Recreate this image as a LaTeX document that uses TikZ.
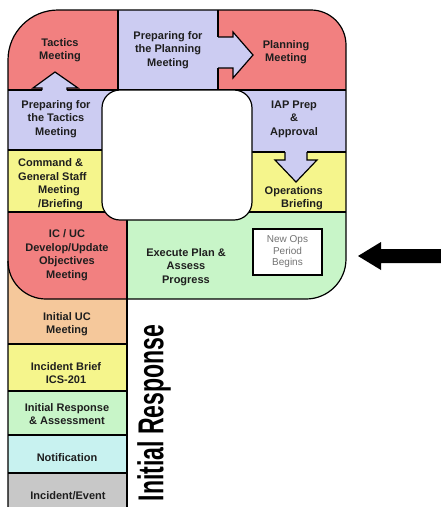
\documentclass[tikz,border=0pt]{standalone}
\usepackage{fontspec}
\setmainfont{Liberation Sans}
\definecolor{cellred}{RGB}{242,128,128}
\definecolor{celllav}{RGB}{204,204,242}
\definecolor{cellyel}{RGB}{245,245,140}
\definecolor{cellgrn}{RGB}{200,245,200}
\definecolor{cellorg}{RGB}{245,200,155}
\definecolor{cellcyn}{RGB}{200,242,240}
\definecolor{cellgry}{RGB}{200,200,200}
\definecolor{inktext}{RGB}{30,30,30}
\tikzset{
  rule/.style={draw=black, line width=1.2pt},
  lbl/.style={font=\bfseries\fontsize{11}{13.5}\selectfont, align=center, text=inktext, inner sep=0pt},
  note/.style={font=\fontsize{10}{11.5}\selectfont, align=center, text=black!55,
    draw=black, line width=1.2pt, fill=white, minimum width=69pt, minimum height=46pt, inner sep=0pt},
}
\begin{document}
\begin{tikzpicture}[x=1pt, y=-1pt]
\useasboundingbox (0,0) rectangle (441,507);

% coloured cells, clipped to the outline of the cycle and the start-up column
\begin{scope}
  \clip (8,520) -- (8,60) .. controls (8,32.4) and (30.4,10) .. (58,10)
     -- (311,10) .. controls (330.3,10) and (346,25.7) .. (346,45)
     -- (346,259) .. controls (346,281.1) and (328.1,299) .. (306,299)
     -- (127,299) -- (127,520) -- cycle;
  \fill[cellred] (8,10) rectangle (118,90);
  \fill[celllav] (118,10) rectangle (218,90);
  \fill[cellred] (218,10) rectangle (346,90);
  \fill[celllav] (8,90) rectangle (150,150);
  \fill[cellyel] (8,150) rectangle (150,212);
  \fill[celllav] (200,90) rectangle (346,152);
  \fill[cellyel] (200,152) rectangle (346,212);
  \fill[cellgrn] (110,212) rectangle (346,299);
  \fill[cellorg] (8,240) rectangle (127,344);
  \fill[cellyel] (8,344) rectangle (127,391);
  \fill[cellgrn] (8,391) rectangle (127,435);
  \fill[cellcyn] (8,435) rectangle (127,473);
  \fill[cellgry] (8,473) rectangle (127,520);
  \begin{scope}
    \clip (8,212) rectangle (127,299);
    \fill[cellred] (8,212) -- (8,261) .. controls (8,282) and (25,299) .. (46,299)
      -- (127,299) -- (127,212) -- cycle;
  \end{scope}
\end{scope}

% block arrows between the stages
\fill[celllav] (215,37) -- (233,37) -- (233,32) -- (253,55) -- (233,78) -- (233,68) -- (215,68) -- cycle;
\draw[rule, line join=miter] (218,37) -- (233,37) -- (233,32) -- (253,55) -- (233,78) -- (233,68) -- (218,68);
\fill[celllav] (42,93) -- (42,88) -- (33,88) -- (55,72) -- (78,88) -- (67,88) -- (67,93) -- cycle;
\draw[rule, line join=miter] (42,90) -- (42,88) -- (33,88) -- (55,72) -- (78,88) -- (67,88) -- (67,90);
\fill[celllav] (285,149) -- (285,160) -- (275,160) -- (296,182) -- (317,160) -- (307,160) -- (307,149) -- cycle;
\draw[rule, line join=miter] (285,152) -- (285,160) -- (275,160) -- (296,182) -- (317,160) -- (307,160) -- (307,152);

% dividing lines
\draw[rule] (118,10) -- (118,90);
\draw[rule] (218,10) -- (218,37) (218,68) -- (218,90);
\draw[rule] (8,90) -- (42,90) (67,90) -- (346,90);
\draw[rule] (8,150) -- (110,150);
\draw[rule] (8,212) -- (110,212);
\draw[rule] (245,152) -- (285,152) (307,152) -- (346,152);
\draw[rule] (245,212) -- (346,212);
\draw[rule] (127,212) -- (127,520);
\draw[rule] (8,261) .. controls (8,282) and (25,299) .. (46,299) -- (127,299);
\draw[rule] (8,344) -- (127,344) (8,391) -- (127,391) (8,435) -- (127,435) (8,473) -- (127,473);

% hollow centre of the cycle
\draw[rule, fill=white, rounded corners=18pt] (102,90) rectangle (252,220);

% outline
\draw[rule] (8,520) -- (8,60) .. controls (8,32.4) and (30.4,10) .. (58,10)
   -- (311,10) .. controls (330.3,10) and (346,25.7) .. (346,45)
   -- (346,259) .. controls (346,281.1) and (328.1,299) .. (306,299)
   -- (127,299);

% stage labels
\node[lbl] (tactics)  at (60,50)    {Tactics\\Meeting};
\node[lbl] (prepplan) at (168,50)   {Preparing for\\the Planning\\Meeting};
\node[lbl] (planning) at (286,52)   {Planning\\Meeting};
\node[lbl] (preptac)  at (56,119)   {Preparing for\\the Tactics\\Meeting};
\node[lbl, align=left, anchor=west] (cgs) at (18,184)
  {Command \&\\General Staff\\\hspace*{20pt}Meeting\\\hspace*{20pt}/Briefing};
\node[lbl] (iap)      at (294,119)  {IAP Prep\\\&\\Approval};
\node[lbl, align=right, anchor=east] (opsbrief) at (323,198) {Operations\\Briefing};
\node[lbl] (icuc)     at (67,255)   {IC / UC\\Develop/Update\\Objectives\\Meeting};
\node[lbl] (execute)  at (186,267)  {Execute Plan \&\\Assess\\Progress};
\node[note] (newops)  at (287.5,252) {New Ops\\Period\\Begins};
\node[lbl] (initialuc) at (67,324)  {Initial UC\\Meeting};
\node[lbl] (incbrief) at (66,373)   {Incident Brief\\ICS-201};
\node[lbl] (initresp) at (67,414)   {Initial Response\\\& Assessment};
\node[lbl] (notify)   at (67,458)   {Notification};
\node[lbl] (incident) at (68,496)   {Incident/Event};

% phase caption along the start-up column
\node[rotate=90, inner sep=0pt, font=\bfseries\fontsize{36}{36}\selectfont] (phase) at (154,413)
  {\scalebox{0.64}[1]{Initial Response}};

% entry arrow into the new operational period
\coordinate (entry) at (358,256);
\fill (441,249) -- (381,249) -- (381,242) -- (entry) -- (381,270) -- (381,263) -- (441,263) -- cycle;
\end{tikzpicture}
\end{document}
